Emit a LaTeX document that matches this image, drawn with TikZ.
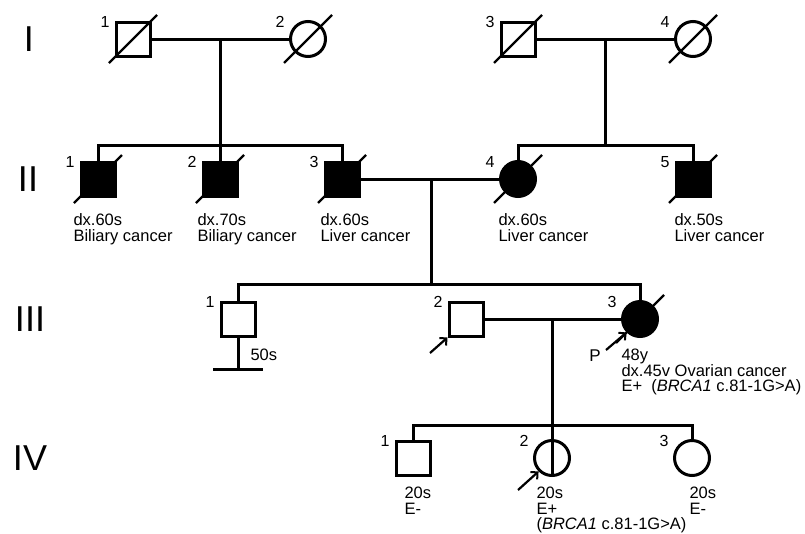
\documentclass[tikz,border=0pt]{standalone}
\usepackage{fontspec}
\setmainfont{Liberation Sans}
\usetikzlibrary{arrows.meta}

\begin{document}
\begin{tikzpicture}[
x=1pt, y=-1pt, % toạ độ theo điểm ảnh, trục y hướng xuống
line width=3pt,
male/.style={rectangle, draw, fill=#1, minimum size=34pt, inner sep=0pt},
male/.default=white,
female/.style={circle, draw, fill=#1, minimum size=35pt, inner sep=0pt},
female/.default=white,
dead/.style={line width=2.2pt},
pro/.style={-{Straight Barb[length=5pt, width=10pt, line width=2pt]}, line width=2.2pt},
gen/.style={font=\fontsize{36}{36}\selectfont, inner sep=0pt},
num/.style={font=\fontsize{16}{16}\selectfont, inner sep=0pt},
note/.style={font=\fontsize{16.5}{15.5}\selectfont, align=left, anchor=north west, inner sep=0pt}
]
\useasboundingbox (0,0) rectangle (805,533);

% --- Nhãn thế hệ ---
\node[gen] (gI) at (29,39) {I};
\node[gen] (gII) at (28,179) {II};
\node[gen] (gIII) at (30,319) {III};
\node[gen] (gIV) at (30,458) {IV};

% --- Thế hệ I ---
\node[male] (i1) at (133,39) {};
\node[female] (i2) at (308,39) {};
\node[male] (i3) at (518,39) {};
\node[female] (i4) at (693,39) {};

% --- Thế hệ II ---
\node[male=black] (ii1) at (98,179) {};
\node[male=black] (ii2) at (220,179) {};
\node[male=black] (ii3) at (342,179) {};
\node[female=black] (ii4) at (518,179) {};
\node[male=black] (ii5) at (693,179) {};

% --- Thế hệ III ---
\node[male] (iii1) at (238,319) {};
\node[male] (iii2) at (466,319) {};
\node[female=black] (iii3) at (640,319) {};

% --- Thế hệ IV ---
\node[male] (iv1) at (413,458) {};
\node[female] (iv2) at (552,458) {};
\node[female] (iv3) at (692,458) {};

% Số thứ tự của từng người
\foreach \p/\n in {i1/1, i2/2, i3/3, i4/4, ii1/1, ii2/2, ii3/3, ii4/4, ii5/5,
  iii1/1, iii2/2, iii3/3, iv1/1, iv2/2, iv3/3}
  \path (\p) ++(-28,-17) node[num] {\n};

% Gạch chéo: đã mất
\foreach \p in {i1, i2, i3, i4, ii1, ii2, ii3, ii4, ii5, iii3}
  \draw[dead] (\p) +(-24,24) -- +(24,-24);

% --- Hôn nhân và con cái ---
\coordinate (m1) at (220,39);
\coordinate (s1) at (220,145);
\draw (i1.east) -- (i2.west);
\draw (m1) -- (s1);
\draw (ii1.north) |- (s1) -| (ii3.north);
\draw (ii2.north) -- (ii2.north |- s1);

\coordinate (m2) at (605,39);
\coordinate (s2) at (605,145);
\draw (i3.east) -- (i4.west);
\draw (m2) -- (s2);
\draw (ii4.north) |- (s2) -| (ii5.north);

\coordinate (m3) at (431,179);
\coordinate (s3) at (431,284);
\draw (ii3.east) -- (ii4.west);
\draw (m3) -- (s3);
\draw (iii1.north) |- (s3) -| (iii3.north);

% III-1 không có con
\coordinate (b0) at (238,369);
\coordinate (bl) at (213,369);
\coordinate (br) at (263,369);
\draw (iii1.south) -- (b0);
\draw (bl) -- (br);

\coordinate (m4) at (552,319);
\coordinate (s4) at (552,425);
\draw (iii2.east) -- (iii3.west);
\draw (m4) -- (iv2.south);
\draw (iv1.north) |- (s4) -| (iv3.north);

% --- Mũi tên chỉ người được khám ---
\coordinate (p1) at (430,353);
\coordinate (p2) at (606,350);
\coordinate (p3) at (518,490);
\draw[pro] (p1) -- (iii2.south west);
\draw[pro] (p2) -- (iii3.225);
\draw[pro] (p3) -- (iv2.225);
\node[inner sep=0pt, font=\fontsize{17}{17}\selectfont] (pl) at (595,356) {P};

% --- Chú thích ---
\node[note] (t1) at (72,212.5) {dx.60s\\Biliary cancer};
\node[note] (t2) at (196,212.5) {dx.70s\\Biliary cancer};
\node[note] (t3) at (319,212.5) {dx.60s\\Liver cancer};
\node[note] (t4) at (497,212.5) {dx.60s\\Liver cancer};
\node[note] (t5) at (673,212.5) {dx.50s\\Liver cancer};
\node[note] (t6) at (249,347.5) {50s};
\node[note] (t7) at (620,347.5) {48y\\dx.45v Ovarian cancer\\E+ \ (\textit{BRCA1} c.81-1G>A)};
\node[note] (t8) at (403,485.5) {20s\\E-};
\node[note] (t9) at (535,485.5) {20s\\E+\\(\textit{BRCA1} c.81-1G>A)};
\node[note] (t10) at (688,485.5) {20s\\E-};

\end{tikzpicture}
\end{document}
